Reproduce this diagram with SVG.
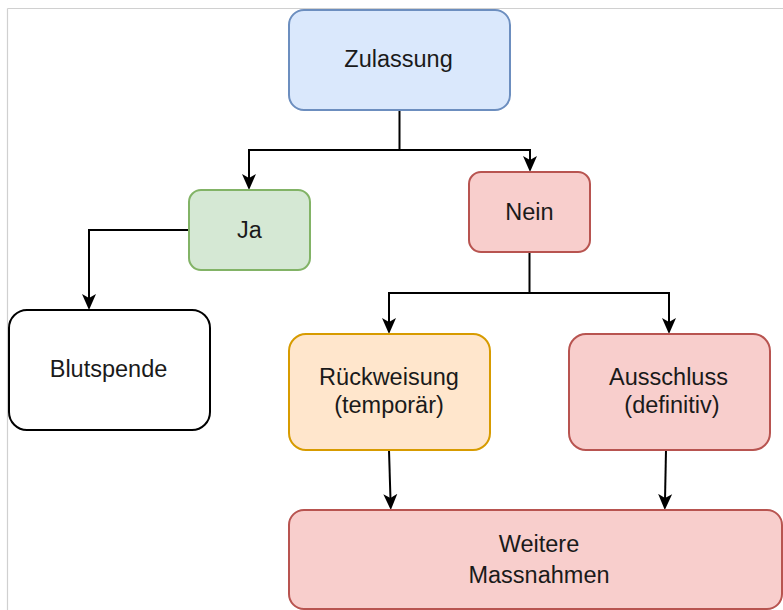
<svg xmlns="http://www.w3.org/2000/svg" width="783" height="610" viewBox="0 0 783 610">
<style>
.box{stroke-width:2}
.blue{fill:#dae8fc;stroke:#6c8ebf}
.green{fill:#d5e8d4;stroke:#82b366}
.red{fill:#f8cecc;stroke:#b85450}
.orange{fill:#ffe6cc;stroke:#d79b00}
.white{fill:#ffffff;stroke:#000000}
.lbl{font-family:"Liberation Sans",Arial,Helvetica,sans-serif;font-size:23.5px;fill:#1a1a1a;text-anchor:middle}
.edge{fill:none;stroke:#000;stroke-width:2}
</style>
<defs>
<marker id="arr" viewBox="0 -8 16 16" refX="6" refY="0" markerWidth="16" markerHeight="16" markerUnits="userSpaceOnUse" orient="auto">
<path d="M0,-7 L16,0 L0,7 L4,0 Z" fill="#000"/>
</marker>
</defs>
<rect width="783" height="610" fill="#ffffff"/>
<g id="frame" stroke="#d0d0d0" stroke-width="1.2">
<line x1="7.5" y1="8.5" x2="783" y2="8.5"/>
<line x1="7.5" y1="8.5" x2="7.5" y2="610"/>
</g>
<g id="connectors">
<path class="edge" d="M399.5,110 V150 H249 V180" marker-end="url(#arr)"/>
<path class="edge" d="M399.5,150 H530 V162" marker-end="url(#arr)"/>
<path class="edge" d="M189,230 H89 V300" marker-end="url(#arr)"/>
<path class="edge" d="M529.5,252 V293 H389 V324" marker-end="url(#arr)"/>
<path class="edge" d="M529.5,293 H669 V324" marker-end="url(#arr)"/>
<path class="edge" d="M389,450 L390.5,500" marker-end="url(#arr)"/>
<path class="edge" d="M666,450 L665,500" marker-end="url(#arr)"/>
</g>
<g id="zulassung">
<rect class="box blue" x="289" y="10" width="221" height="100" rx="15"/>
<text class="lbl" x="398.5" y="67">Zulassung</text>
</g>
<g id="ja">
<rect class="box green" x="189" y="190" width="121" height="80" rx="12"/>
<text class="lbl" x="249.5" y="238">Ja</text>
</g>
<g id="nein">
<rect class="box red" x="469" y="172" width="121" height="80" rx="12"/>
<text class="lbl" x="529.5" y="220">Nein</text>
</g>
<g id="blutspende">
<rect class="box white" x="9" y="310" width="201" height="120" rx="18"/>
<text class="lbl" x="108.5" y="377">Blutspende</text>
</g>
<g id="rueckweisung">
<rect class="box orange" x="289" y="334" width="201" height="116" rx="17"/>
<text class="lbl" x="389" y="385">Rückweisung</text>
<text class="lbl" x="389" y="413">(temporär)</text>
</g>
<g id="ausschluss">
<rect class="box red" x="569" y="334" width="201" height="116" rx="17"/>
<text class="lbl" x="668.5" y="385">Ausschluss</text>
<text class="lbl" x="672" y="413">(definitiv)</text>
</g>
<g id="weitere">
<rect class="box red" x="289" y="510" width="493" height="99" rx="15"/>
<text class="lbl" x="539" y="552">Weitere</text>
<text class="lbl" x="539" y="583">Massnahmen</text>
</g>
</svg>
